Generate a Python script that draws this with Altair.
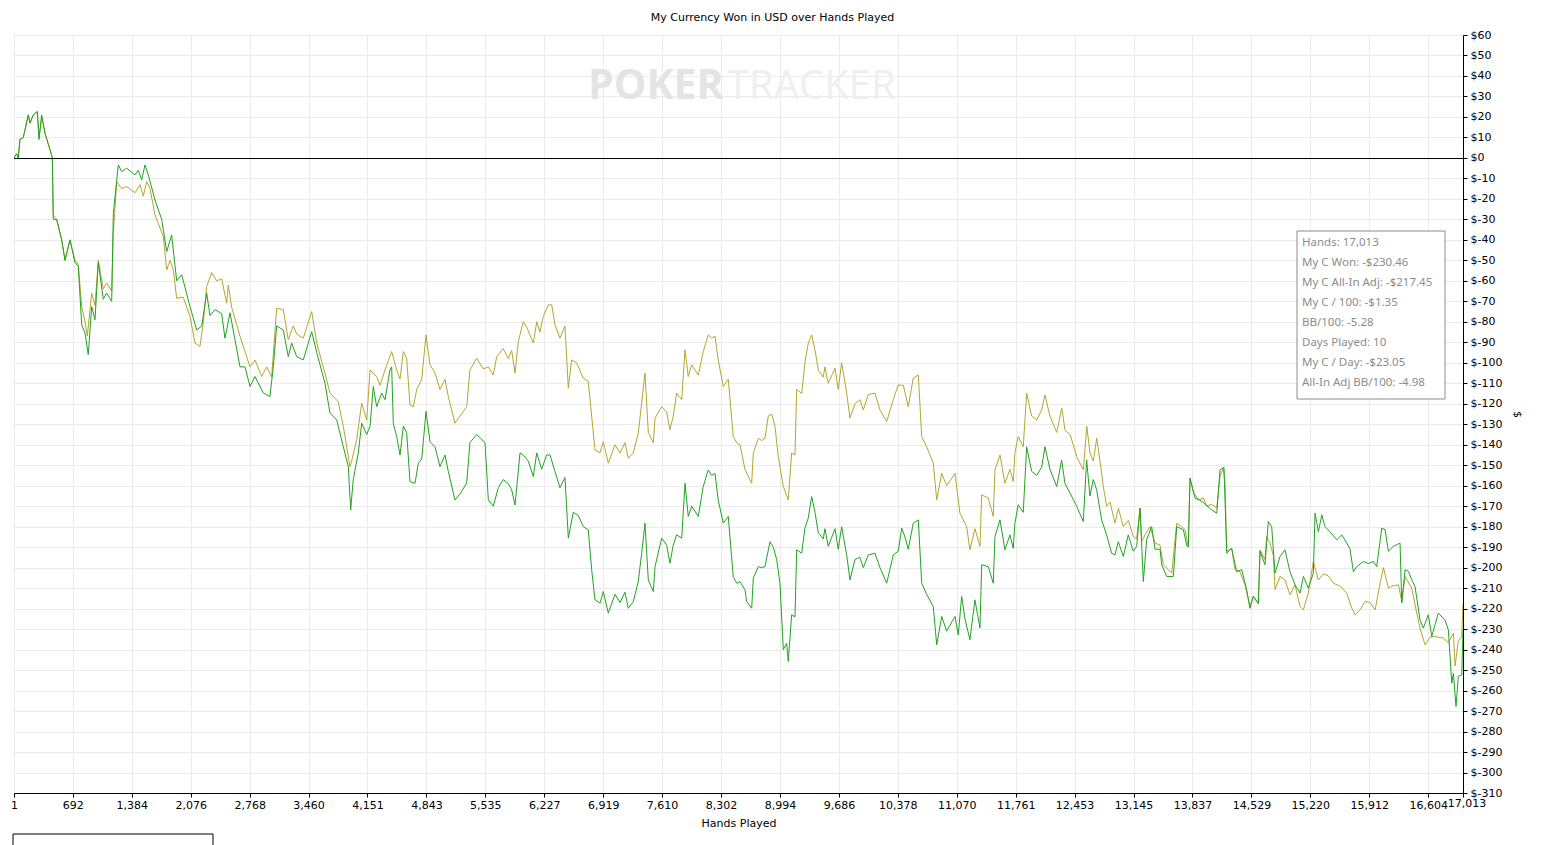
import altair as alt
import pandas as pd

# ---------------- data ----------------
won_hands = [1,33,51,71,110,169,189,228,275,295,326,365,424,451,462,502,561,600,658,717,756,796,835,873,913,952,991,1049,1089,1148,1167,1226,1265,1324,1422,1460,1500,1539,1578,1656,1735,1794,1852,1911,1970,2067,2146,2205,2263,2302,2361,2439,2478,2537,2654,2713,2772,2830,2928,3006,3045,3085,3163,3221,3261,3320,3397,3496,3555,3652,3711,3790,3867,3926,3954,3984,4043,4083,4142,4181,4219,4259,4318,4357,4415,4435,4454,4494,4533,4572,4611,4650,4709,4748,4788,4838,4885,4944,5002,5061,5100,5178,5237,5316,5354,5433,5531,5570,5628,5687,5745,5804,5844,5883,5942,5980,6039,6098,6138,6196,6255,6294,6352,6411,6470,6509,6567,6626,6685,6743,6783,6822,6881,6920,6978,7057,7116,7174,7213,7272,7330,7370,7409,7448,7507,7527,7605,7664,7702,7741,7781,7840,7879,7917,7957,8035,8093,8152,8192,8231,8269,8328,8387,8445,8485,8525,8583,8603,8662,8681,8740,8779,8818,8877,8915,8955,8994,9033,9073,9091,9131,9170,9190,9249,9287,9326,9366,9405,9444,9502,9522,9561,9640,9678,9718,9777,9816,9874,9933,9972,10031,10109,10168,10247,10324,10383,10423,10461,10500,10559,10618,10658,10716,10794,10834,10893,10951,11049,11087,11127,11166,11224,11283,11342,11362,11439,11498,11518,11577,11635,11694,11733,11752,11791,11850,11890,11949,12008,12066,12105,12164,12243,12301,12340,12399,12477,12555,12594,12633,12672,12712,12770,12829,12888,12927,12966,13025,13083,13142,13182,13221,13260,13299,13358,13397,13456,13476,13534,13612,13652,13730,13769,13788,13808,13867,13926,13984,14063,14122,14160,14207,14239,14297,14356,14415,14473,14512,14551,14610,14630,14688,14727,14767,14806,14864,14923,14982,15041,15100,15139,15197,15256,15276,15315,15355,15393,15452,15531,15589,15648,15687,15726,15766,15843,15902,15961,16000,16059,16098,16137,16195,16235,16274,16294,16333,16371,16411,16450,16508,16547,16606,16646,16723,16802,16841,16881,16900,16931,16958,16998,17013]
won_usd = [0,2,0,9,10,21,17,21,22.6,9,21,12,4,0,-30,-30,-40,-50,-40,-51,-53,-81.5,-85.5,-96,-72.6,-79,-51,-69,-66,-70,-27,-3.4,-6.7,-5,-8.3,-6,-10.7,-3.4,-8.3,-20.5,-30,-45.7,-37.6,-60,-57,-72.6,-84,-82,-66,-77,-74,-76,-88,-75.6,-102,-102,-111.6,-106.7,-114.8,-116.5,-102,-82,-84,-97,-90.4,-97,-98.6,-84.8,-95,-110,-124.6,-127.9,-141,-150.7,-171.8,-157,-144,-129.5,-135,-131,-111.6,-121.4,-114.8,-118,-103.5,-102,-129.5,-136,-145,-131,-134,-158,-158.8,-149,-147,-123.8,-138.5,-141,-150.7,-145,-153,-167,-164,-158.8,-139,-135,-139,-167,-170,-161,-157,-159,-162,-169.5,-144,-145,-148,-155.5,-144,-152,-145,-145,-153,-161,-156,-185.6,-173,-174.5,-180,-181.5,-201,-215.7,-217.3,-211.7,-222.2,-213,-217,-212,-219.8,-216.6,-206.8,-193,-178.3,-206,-211.7,-199.5,-185.6,-189,-197.8,-189,-184,-185.6,-158.8,-175,-170,-175,-160.4,-152.3,-155,-154,-167,-178.3,-175,-204.3,-207.6,-206.8,-210.8,-216.5,-219.8,-205,-199.5,-200,-199.5,-187.3,-190,-196,-207.6,-240,-237,-245.8,-223,-224,-191.3,-193,-180.7,-175.8,-165.3,-173,-183,-186,-181,-189.6,-181,-191,-180,-193.8,-206,-196,-195,-200,-193.8,-193,-200,-207.6,-193.8,-192,-180.7,-185,-191,-178.3,-176.7,-207.6,-213,-219,-237.7,-223.8,-231,-223.8,-232.8,-214,-225,-235.2,-215.7,-229.5,-198.6,-199.5,-207.6,-184.8,-176.7,-191.3,-184,-190.6,-178.3,-169.3,-173,-141,-153,-155,-151,-141,-152,-160.4,-147.4,-159,-163.6,-170,-177.5,-147.4,-165,-157,-162,-176.7,-184,-193,-193.8,-187.3,-194.6,-184,-192,-189.6,-171,-206.8,-186.4,-180,-191,-191,-198.6,-204.3,-204.3,-180,-181.5,-189,-190,-156.3,-166,-167,-169,-171.8,-173.4,-152.3,-151,-193,-190.6,-202,-201,-210.8,-219.8,-214,-217.6,-192,-198.6,-177.5,-180,-202.7,-194.6,-191.3,-202,-208.4,-212.4,-204.3,-210,-202.7,-173.4,-182.5,-174.2,-180,-182.5,-186.4,-184,-188,-191,-202,-199.5,-197,-198,-197,-199.5,-180.7,-181.5,-192,-189.6,-188.8,-188,-217.3,-201,-201.8,-205.9,-209.2,-225.5,-229.5,-223,-233.6,-222.2,-225.5,-230.4,-256.4,-251.6,-267.8,-253,-252.5,-230.46]

adj_hands = [1,33,51,71,110,169,189,228,275,295,326,365,424,451,462,502,561,600,658,717,756,796,835,862,913,952,991,1049,1089,1148,1167,1207,1265,1324,1422,1480,1519,1559,1598,1656,1754,1794,1833,1871,1911,1989,2067,2126,2185,2224,2263,2322,2381,2439,2498,2517,2557,2654,2772,2830,2909,2968,3026,3085,3163,3221,3280,3320,3397,3496,3555,3652,3711,3808,3867,3946,3965,4024,4083,4142,4181,4259,4298,4357,4435,4494,4533,4572,4611,4650,4689,4729,4788,4838,4885,4944,5002,5061,5100,5178,5237,5316,5354,5433,5511,5570,5628,5668,5745,5804,5844,5883,5922,5980,6020,6098,6138,6176,6215,6274,6314,6352,6411,6470,6509,6548,6607,6685,6743,6783,6822,6881,6920,6978,7057,7116,7174,7213,7272,7330,7370,7409,7448,7507,7527,7605,7664,7702,7741,7781,7840,7879,7917,7957,8035,8093,8152,8192,8231,8269,8328,8387,8445,8485,8525,8583,8662,8681,8740,8779,8818,8857,8897,8935,8974,9033,9091,9131,9170,9190,9249,9287,9326,9366,9405,9444,9502,9522,9561,9640,9678,9718,9777,9816,9874,9933,9972,10031,10109,10168,10247,10324,10383,10442,10500,10559,10618,10658,10716,10794,10834,10893,10951,11049,11107,11186,11224,11283,11342,11362,11439,11498,11518,11577,11635,11694,11733,11752,11791,11850,11890,11949,12008,12066,12105,12164,12243,12302,12341,12400,12478,12556,12596,12634,12673,12713,12771,12790,12829,12869,12927,12967,13025,13084,13142,13182,13221,13241,13280,13339,13397,13456,13495,13554,13593,13652,13710,13750,13788,13808,13847,13906,13965,14004,14063,14122,14160,14199,14219,14239,14297,14336,14395,14454,14512,14551,14610,14630,14688,14708,14747,14786,14806,14864,14923,14982,15041,15100,15139,15197,15256,15315,15374,15432,15491,15569,15648,15707,15746,15804,15863,15922,15981,16040,16079,16137,16177,16255,16294,16333,16411,16470,16508,16567,16626,16685,16723,16782,16841,16900,16920,16958,16998,17013]
adj_usd = [0,2,0,9,10,21,17,21,22.6,10,20,12,4,0,-28,-30,-40,-50,-40,-50,-52,-72.6,-80,-87,-66,-72,-50,-64,-61,-65,-36.8,-11.5,-15,-14,-17,-13,-18.6,-11.5,-15,-27.8,-38.4,-54.7,-50,-54.7,-68.5,-68,-77.4,-90.4,-92,-80,-62.8,-56,-60,-59,-71,-62,-73,-87,-102,-98.6,-106.7,-102,-107,-73.4,-74,-88.8,-82,-86,-88,-75,-90.4,-105,-114.8,-119,-131,-150.7,-148,-137.6,-119.7,-128,-103.5,-106.7,-111,-103.5,-94.5,-103.5,-108,-94.5,-97.8,-120.5,-121.5,-113,-108,-86.4,-101,-105,-113,-108,-116.5,-129.5,-126,-121.4,-103.5,-97.8,-103,-102,-106,-97,-93,-98,-94,-105,-89.6,-80,-82.6,-90.4,-80,-85,-77.4,-71.7,-71.7,-81.5,-88,-82,-112.4,-98.6,-100,-107.5,-109,-126,-142.5,-144,-138.5,-149,-140,-144,-139,-146.6,-144,-134.4,-119.7,-105,-134,-139,-127,-121.4,-124,-132.7,-126,-114.8,-118,-93.7,-106.7,-101,-106,-94.5,-86.4,-88,-87,-98.6,-111.6,-108,-136,-139,-140,-152,-158.8,-144,-136.8,-138,-136.8,-126,-125,-131,-145.8,-160.4,-167,-144,-145,-113,-115,-100,-90.4,-86.4,-93.7,-103.5,-107,-102,-110,-102.6,-113,-100,-114.8,-127,-120,-118,-123,-115.5,-114.8,-123,-128.7,-118,-110.8,-111,-121.4,-107.5,-106,-136,-141,-149,-167,-154,-160,-154,-173.4,-180,-191.3,-181,-189.6,-164.5,-166,-175,-152.3,-145,-158.8,-152,-158,-144,-136,-141,-114.8,-126,-128,-123,-115.7,-126,-134,-122,-133,-135,-145.8,-152.3,-131,-144,-148,-136.8,-154,-160.4,-170,-168,-178.3,-171,-180,-177,-184.8,-186,-171,-187.3,-184,-180,-188,-189,-198.6,-201,-202.7,-178.3,-180,-181.5,-189.6,-156.3,-163,-167,-166,-170,-169,-171,-155.5,-151.4,-159,-192,-190.6,-201,-202,-208.4,-219,-214,-217,-191.3,-196,-184.8,-188,-194,-210.8,-204.3,-206,-213.3,-208.4,-219,-220.6,-212.4,-197,-206,-203,-204,-207.6,-209,-212.4,-219.8,-223,-220.6,-216.5,-217,-220.6,-207.6,-200,-210,-209,-208.4,-216.5,-204.3,-210,-222.2,-229.5,-237.7,-234,-233.5,-234,-234.4,-236.6,-232,-248,-235.7,-233.6,-217.45]

x_ticks = [1,692,1384,2076,2768,3460,4151,4843,5535,6227,6919,7610,8302,8994,9686,10378,11070,11761,12453,13145,13837,14529,15220,15912,16604,17013]
last_tick = [17013]
y_ticks = list(range(60, -311, -10))

series_names = ["My C All-In Adj", "My C Won"]
series_colors = ["#b5a62e", "#21a321"]

stats_lines = ["Hands: 17,013", "My C Won: -$230.46", "My C All-In Adj: -$217.45",
               "My C / 100: -$1.35", "BB/100: -5.28", "Days Played: 10",
               "My C / Day: -$23.05", "All-In Adj BB/100: -4.98"]

title_text = "My Currency Won in USD over Hands Played"

assert len(won_hands) == len(won_usd), (len(won_hands), len(won_usd))
assert len(adj_hands) == len(adj_usd), (len(adj_hands), len(adj_usd))

df = pd.concat([
    pd.DataFrame({"hands": adj_hands, "usd": adj_usd, "series": series_names[0], "order": 0}),
    pd.DataFrame({"hands": won_hands, "usd": won_usd, "series": series_names[1], "order": 1}),
])

W, H = 1449, 758
FONT = "DejaVu Sans"

xscale = alt.Scale(domain=[1, 17013], nice=False, zero=False)
yscale = alt.Scale(domain=[-310, 60], nice=False, zero=False)

lines = alt.Chart(df).mark_line(strokeWidth=1, clip=True).encode(
    x=alt.X("hands:Q", scale=xscale, title="Hands Played",
            axis=alt.Axis(values=x_ticks, tickCount=60,
                          labelExpr="datum.value == 17013 ? '' : format(datum.value, ',d')",
                          labelFlush=False, labelOverlap=False,
                          grid=True, gridColor="#ebebeb", domainColor="black", tickColor="black",
                          tickSize=4, labelColor="black", labelFontSize=11, labelFont=FONT,
                          titleFont=FONT, titleFontSize=11, titleFontWeight="normal",
                          titleColor="black", titlePadding=7, labelPadding=2)),
    y=alt.Y("usd:Q", scale=yscale, title="$",
            axis=alt.Axis(orient="right", values=y_ticks, tickCount=60,
                          labelExpr="'$' + datum.value",
                          labelOverlap=False, labelFlush=False,
                          grid=True, gridColor="#ebebeb", domainColor="black", tickColor="black",
                          tickSize=4, labelColor="black", labelFontSize=11, labelFont=FONT,
                          titleFont=FONT, titleFontSize=11, titleFontWeight="normal",
                          titleColor="black", titlePadding=10, labelPadding=3)),
    color=alt.Color("series:N", scale=alt.Scale(domain=series_names, range=series_colors), legend=None),
    detail="series:N",
    order="order:Q",
)

last_label = alt.Chart(pd.DataFrame({"hands": last_tick})).mark_text(
    font=FONT, fontSize=11, color="black", align="center", baseline="middle", dx=4).encode(
    x=alt.X("hands:Q", scale=xscale),
    y=alt.value(H + 11),
    text=alt.Text("hands:Q", format=",d"),
)

zero_rule = alt.Chart(pd.DataFrame({"v": [0]})).mark_rule(color="black", strokeWidth=1, yOffset=0.6).encode(
    y=alt.Y("v:Q", scale=yscale)
)

one = pd.DataFrame({"k": [0]})
wm_poker = alt.Chart(one).mark_text(text="POKER", font="Open Sans", fontSize=41, fontWeight="bold",
                                    color="#e4e4e4", align="left", baseline="alphabetic").encode(
    x=alt.value(574), y=alt.value(64))
wm_tracker = alt.Chart(one).mark_text(text="TRACKER", font="Open Sans", fontSize=40, fontWeight="normal",
                                      color="#efefef", align="left", baseline="alphabetic").encode(
    x=alt.value(713), y=alt.value(64))

stats_box = alt.Chart(one).mark_rect(fill="white", stroke="#8c8c8c", strokeWidth=1).encode(
    x=alt.value(1283), x2=alt.value(1431), y=alt.value(196), y2=alt.value(364))
stats_text = alt.Chart(one).mark_text(text=stats_lines, font="Noto Sans", fontSize=11.5, color="#8c8c8c",
                                      align="left", baseline="alphabetic", lineHeight=20).encode(
    x=alt.value(1288), y=alt.value(211))

legend_box = alt.Chart(one).mark_rect(fill="white", stroke="black", strokeWidth=1).encode(
    x=alt.value(-1), x2=alt.value(199), y=alt.value(799), y2=alt.value(830))

chart = alt.layer(wm_poker, wm_tracker, lines, zero_rule, stats_box, stats_text, legend_box,
                  last_label).properties(
    width=W, height=H,
    title=alt.TitleParams(title_text, font=FONT, fontSize=11, fontWeight="normal", color="black",
                          anchor="middle", dx=34, offset=6),
    autosize=alt.AutoSizeParams(type="none"),
    padding={"left": 6, "top": 27, "right": 80, "bottom": 52},
).configure_view(stroke="black", strokeWidth=1).configure(background="white")

chart.save("out.html", embed_options={"renderer": "svg", "actions": False})
